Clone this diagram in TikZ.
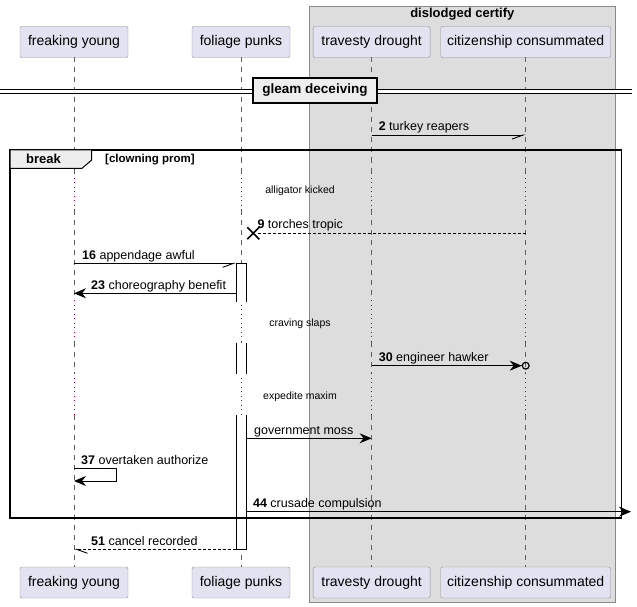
\documentclass[tikz,border=0pt]{standalone}
\usepackage{fontspec}
\setmainfont{Liberation Sans}
\usetikzlibrary{arrows.meta,calc}

\definecolor{partfill}{HTML}{E2E2F0}
\definecolor{partline}{HTML}{8C8C9C}
\definecolor{boxfill}{HTML}{DDDDDD}
\definecolor{boxline}{HTML}{8A8A8A}
\definecolor{delayred}{HTML}{A80036}
\definecolor{tabfill}{HTML}{EEEEEE}

\tikzset{
  part/.style={draw=partline, fill=partfill, rounded corners=2pt, minimum height=31pt, inner sep=0pt, font=\fontsize{14}{16}\selectfont},
  lifeline/.style={gray!75!black, line width=0.6pt, dash pattern=on 5pt off 5pt},
  delayline/.style={delayred, line width=1pt, dash pattern=on 1pt off 3.5pt},
  msg/.style={black, line width=0.9pt},
  back/.style={dash pattern=on 3pt off 2pt},
  filled/.style={-{Stealth[length=12pt, width=10pt, inset=4pt]}},
  halfdown/.style={-{Straight Barb[right, length=11pt, width=8pt]}},
  halfup/.style={-{Straight Barb[left, length=11pt, width=8pt]}},
  lbl/.style={anchor=base west, inner sep=0pt, font=\fontsize{12.5}{14}\selectfont},
  delaytext/.style={inner sep=0pt, font=\fontsize{10.5}{12}\selectfont},
}

\begin{document}
\begin{tikzpicture}[x=1pt, y=-1pt]
    \useasboundingbox (0,0) rectangle (637,607);

    % Box round the two right participants
    \draw[boxline, fill=boxfill] (309.3,6) rectangle (615.3,602);
    \node[font=\bfseries\fontsize{13}{15}\selectfont] (grp) at (462.3,14.5) {dislodged certify};

    % Participants, top and bottom
    \node[part, minimum width=108pt] (yTop) at (74,42) {freaking young};
    \node[part, minimum width=98pt] (pTop) at (241,42) {foliage punks};
    \node[part, minimum width=117pt] (tTop) at (371.6,42) {travesty drought};
    \node[part, minimum width=170pt] (cTop) at (525.7,42) {citizenship consummated};
    \node[part, minimum width=108pt] (yBot) at (74,582.5) {freaking young};
    \node[part, minimum width=98pt] (pBot) at (241,582.5) {foliage punks};
    \node[part, minimum width=117pt] (tBot) at (371.6,582.5) {travesty drought};
    \node[part, minimum width=170pt] (cBot) at (525.7,582.5) {citizenship consummated};

    % Lifelines, dashed with dotted delays
    \foreach \who in {y,p,t,c} {
        \foreach \from/\to in {57.5/173,210/300,342/373,415/567}
            \draw[lifeline] (\who Top.south |- 0,\from) -- (\who Top.south |- 0,\to);
        \foreach \from/\to in {173/210,300/342,373/415}
            \draw[delayline] (\who Top.south |- 0,\from) -- (\who Top.south |- 0,\to);
    }

    % Activation of foliage punks
    \coordinate (barL) at (236.2,0);
    \coordinate (barR) at (246.4,0);
    \fill[white] (barL |- 0,263.3) rectangle (barR |- 0,301.7);
    \fill[white] (barL |- 0,342.7) rectangle (barR |- 0,374.3);
    \fill[white] (barL |- 0,415) rectangle (barR |- 0,549.3);
    \draw[msg] (barL |- 0,301.7) -- (barL |- 0,263.3) -- (barR |- 0,263.3) -- (barR |- 0,301.7);
    \draw[msg] (barL |- 0,342.7) -- (barL |- 0,374.3) (barR |- 0,342.7) -- (barR |- 0,374.3);
    \draw[msg] (barL |- 0,415) -- (barL |- 0,549.3) -- (barR |- 0,549.3) -- (barR |- 0,415);

    % Divider
    \draw[black, line width=0.8pt, double distance=2.6pt] (0,91.6) -- (631.7,91.6);
    \node[draw, line width=1.5pt, fill=tabfill, minimum width=124pt, minimum height=25pt, inner sep=0pt,
          font=\bfseries\fontsize{13.5}{15}\selectfont] (divider) at (315,90.5) {gleam deceiving};

    % Message before the group
    \draw[msg, halfdown] (tTop |- 0,135) -- (cTop |- 0,135);
    \node[lbl] (m2) at ($(tTop |- 0,135)+(7,-4)$) {\textbf{2} turkey reapers};

    % Break group
    \draw[line width=1.5pt] (10,150) rectangle (621.7,518);
    \draw[line width=1pt, fill=tabfill] (10,150) -- (91.7,150) -- (91.7,160) -- (82,168.3) -- (10,168.3) -- cycle;
    \node[font=\bfseries\fontsize{13}{15}\selectfont] (brk) at (43.5,159) {break};
    \node[anchor=west, inner sep=0pt, font=\bfseries\fontsize{11.5}{13}\selectfont] (guard) at (105,159.5) {[clowning prom]};

    % Delays
    \node[delaytext] (dl1) at (300,190.5) {alligator kicked};
    \node[delaytext] (dl2) at (300,323.3) {craving slaps};
    \node[delaytext] (dl3) at (300,396.5) {expedite maxim};

    % Messages inside the group
    \coordinate (kill) at (253.3,233.3);
    \draw[msg, back] (cTop |- kill) -- ($(kill)+(5,0)$);
    \draw[line width=1.6pt] ($(kill)+(-6,-6)$) -- ($(kill)+(6,6)$) ($(kill)+(-6,6)$) -- ($(kill)+(6,-6)$);
    \node[lbl] (m9) at ($(kill)+(4,-5)$) {\textbf{9} torches tropic};

    \draw[msg, halfdown] (yTop |- 0,263.3) -- (barL |- 0,263.3);
    \node[lbl] (m16) at ($(yTop |- 0,263.3)+(8,-4)$) {\textbf{16} appendage awful};

    \draw[msg, filled] (barL |- 0,293.3) -- (yTop |- 0,293.3);
    \node[lbl] (m23) at ($(yTop |- 0,293.3)+(17,-4)$) {\textbf{23} choreography benefit};

    \draw[msg, -{Stealth[length=12pt, width=10pt, inset=4pt] Circle[open, length=8pt, width=8pt, line width=1.2pt]}]
        (tTop |- 0,365.7) -- ($(cTop |- 0,365.7)+(4,0)$);
    \node[lbl] (m30) at ($(tTop |- 0,365.7)+(7,-4)$) {\textbf{30} engineer hawker};

    \draw[msg, filled] (barR |- 0,438.3) -- (tTop |- 0,438.3);
    \node[lbl] (mgov) at ($(barR |- 0,438.3)+(7.5,-4)$) {government moss};

    \draw[msg, filled] (yTop |- 0,468.3) -- ++(42.7,0) |- (yTop |- 0,481);
    \node[lbl] (m37) at ($(yTop |- 0,468.3)+(7,-4)$) {\textbf{37} overtaken authorize};

    \draw[msg, filled] (barR |- 0,511.7) -- (631,511.7);
    \node[lbl] (m44) at ($(barR |- 0,511.7)+(6.5,-4)$) {\textbf{44} crusade compulsion};

    % Reply after the group
    \draw[msg, back, halfup] (barL |- 0,549.3) -- (yTop |- 0,549.3);
    \node[lbl] (m51) at ($(yTop |- 0,549.3)+(17,-4)$) {\textbf{51} cancel recorded};

\end{tikzpicture}
\end{document}
